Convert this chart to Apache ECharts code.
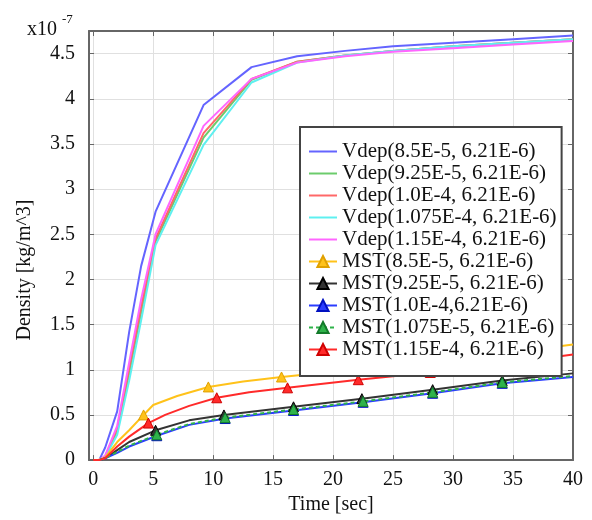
<!DOCTYPE html>
<html>
<head>
<meta charset="utf-8">
<script src="https://cdn.jsdelivr.net/npm/echarts@6/dist/echarts.min.js"></script>
<style>html,body{margin:0;padding:0;background:#fff;}#c{width:592px;height:520px;}</style>
</head>
<body>
<div id="c"></div>
<script>
// ---- data ----
var vdepT = [0, 0.5, 1, 2, 3, 4, 5.2, 9.2, 13.2, 17, 21, 25, 30, 35, 40];
var vdepBlue    = [0, 0, 0.14, 0.54, 1.42, 2.15, 2.75, 3.93, 4.35, 4.47, 4.53, 4.58, 4.62, 4.66, 4.70];
var vdepGreen   = [0, 0, 0.04, 0.32, 0.96, 1.64, 2.42, 3.57, 4.21, 4.41, 4.48, 4.53, 4.58, 4.62, 4.66];
var vdepRed     = [0, 0, 0.04, 0.35, 1.02, 1.70, 2.45, 3.62, 4.22, 4.41, 4.48, 4.53, 4.58, 4.62, 4.66];
var vdepCyan    = [0, 0, 0.03, 0.28, 0.88, 1.55, 2.38, 3.49, 4.18, 4.40, 4.48, 4.53, 4.58, 4.62, 4.66];
var vdepMagenta = [0, 0, 0.05, 0.38, 1.08, 1.78, 2.50, 3.70, 4.22, 4.40, 4.47, 4.52, 4.56, 4.60, 4.64];

var mstYellowT = [0, 0.4, 1, 2, 3, 4.2, 5, 7, 9.6, 12.5, 15.7, 21.6, 27.6, 33.6, 40];
var mstYellowV = [0, 0, 0.03, 0.20, 0.33, 0.50, 0.61, 0.71, 0.81, 0.87, 0.92, 1.00, 1.08, 1.17, 1.28];
var mstYellowM = [5, 8, 10, 11, 12, 13];

var mstBlackT = [0, 0.5, 1, 2, 3, 5.2, 8, 10.9, 16.7, 22.4, 28.3, 34.1, 40];
var mstBlackV = [0, 0, 0.02, 0.11, 0.20, 0.33, 0.44, 0.50, 0.59, 0.68, 0.78, 0.88, 0.96];
var mstBlackM = [5, 7, 8, 9, 10, 11];

var mstBlueT = [0, 0.5, 1, 2, 3, 5.3, 8, 11, 16.7, 22.5, 28.3, 34.1, 40];
var mstBlueV = [0, 0, 0.02, 0.08, 0.15, 0.27, 0.39, 0.46, 0.55, 0.64, 0.74, 0.85, 0.92];
var mstBlueM = [5, 7, 8, 9, 10, 11];

var mstGreenT = [0, 0.5, 1, 2, 3, 5.3, 8, 11, 16.7, 22.5, 28.3, 34.1, 40];
var mstGreenV = [0, 0, 0.02, 0.09, 0.16, 0.28, 0.40, 0.47, 0.56, 0.65, 0.75, 0.86, 0.93];
var mstGreenM = [5, 7, 8, 9, 10, 11];

var mstRedT = [0, 0.5, 1, 2, 3, 4.6, 6, 8, 10.3, 13, 16.2, 22.1, 28.1, 34, 40];
var mstRedV = [0, 0, 0.02, 0.15, 0.26, 0.41, 0.50, 0.60, 0.69, 0.75, 0.80, 0.89, 0.97, 1.06, 1.17];
var mstRedM = [5, 8, 10, 11, 12, 13];

var yTicks = [0, 0.5, 1, 1.5, 2, 2.5, 3, 3.5, 4, 4.5];

// ---- build ----
function pairs(t, v) { return t.map(function (x, i) { return [x, v[i]]; }); }
function markedPairs(t, v, m) {
  return t.map(function (x, i) {
    return { value: [x, v[i]], symbol: m.indexOf(i) >= 0 ? 'triangle' : 'none' };
  });
}
var serif = '"Liberation Serif", "DejaVu Serif", serif';

function vdep(name, color, vals) {
  return {
    name: name, type: 'line', data: pairs(vdepT, vals), symbol: 'none',
    lineStyle: { color: color, width: 2 }, itemStyle: { color: color },
    animation: false, z: 2
  };
}
function mst(name, color, border, t, v, m, dashed) {
  return {
    name: name, type: 'line', data: markedPairs(t, v, m), symbol: 'triangle', symbolSize: 10,
    showSymbol: true, showAllSymbol: true,
    lineStyle: { color: color, width: 2, type: dashed ? [4, 3] : 'solid' },
    itemStyle: { color: color, borderColor: border, borderWidth: 1 },
    animation: false, z: 3
  };
}

var series = [
  vdep('Vdep(8.5E-5, 6.21E-6)', '#6464ff', vdepBlue),
  vdep('Vdep(9.25E-5, 6.21E-6)', '#6ccc6c', vdepGreen),
  vdep('Vdep(1.0E-4, 6.21E-6)', '#ff6868', vdepRed),
  vdep('Vdep(1.075E-4, 6.21E-6)', '#5ef0f0', vdepCyan),
  vdep('Vdep(1.15E-4, 6.21E-6)', '#ff66ff', vdepMagenta),
  mst('MST(8.5E-5, 6.21E-6)', '#ffc21a', '#e0a000', mstYellowT, mstYellowV, mstYellowM),
  mst('MST(9.25E-5, 6.21E-6)', '#333333', '#000000', mstBlackT, mstBlackV, mstBlackM),
  mst('MST(1.0E-4,6.21E-6)', '#2b3cff', '#0010c0', mstBlueT, mstBlueV, mstBlueM),
  mst('MST(1.075E-5, 6.21E-6)', '#2fb34a', '#137a2a', mstGreenT, mstGreenV, mstGreenM, true),
  mst('MST(1.15E-4, 6.21E-6)', '#ff2a2a', '#d00000', mstRedT, mstRedV, mstRedM)
];

var legendData = series.map(function (s, i) {
  return i < 5
    ? { name: s.name, itemStyle: { opacity: 0, color: 'rgba(0,0,0,0)', borderWidth: 0 } }
    : { name: s.name };
});

var frameColor = '#666';
var chart = echarts.init(document.getElementById('c'), null, { renderer: 'canvas' });
chart.setOption({
  backgroundColor: '#fff',
  animation: false,
  grid: { left: 89, right: 19, top: 31, bottom: 54, containLabel: false },
  xAxis: [{
    type: 'value', min: -0.35, max: 40, splitNumber: 8,
    name: 'Time [sec]', nameLocation: 'middle', nameGap: 31,
    nameTextStyle: { fontFamily: serif, fontSize: 20, color: '#111' },
    axisLine: { show: true, onZero: false, lineStyle: { color: frameColor, width: 2 } },
    axisTick: { show: true, inside: true, length: 5, lineStyle: { color: frameColor } },
    axisLabel: { showMinLabel: false, margin: 10, fontFamily: serif, fontSize: 20, color: '#111' },
    splitLine: { show: true, lineStyle: { color: '#e0e0e0', width: 1 } }
  }, {
    type: 'value', position: 'top', min: -0.35, max: 40, splitNumber: 8,
    axisLine: { show: true, onZero: false, lineStyle: { color: frameColor, width: 2 } },
    axisTick: { show: true, inside: true, length: 5, lineStyle: { color: frameColor } },
    axisLabel: { show: false }, splitLine: { show: false }
  }],
  yAxis: [{
    type: 'value', min: 0, max: 4.75, interval: 0.5,
    axisLine: { show: true, onZero: false, lineStyle: { color: frameColor, width: 2 } },
    axisTick: { show: true, inside: true, length: 5, lineStyle: { color: frameColor } },
    axisLabel: {
      showMaxLabel: false, margin: 14, fontFamily: serif, fontSize: 20, color: '#111',
      formatter: function (v) { return yTicks.indexOf(v) >= 0 ? String(v) : ''; }
    },
    splitLine: { show: true, lineStyle: { color: '#e0e0e0', width: 1 } }
  }, {
    type: 'value', position: 'right', min: 0, max: 4.75, interval: 0.5,
    axisLine: { show: true, onZero: false, lineStyle: { color: frameColor, width: 2 } },
    axisTick: { show: true, inside: true, length: 5, lineStyle: { color: frameColor } },
    axisLabel: { show: false }, splitLine: { show: false }
  }],
  legend: {
    orient: 'vertical', left: 300, top: 127,
    padding: [14, 5, 16, 8], itemWidth: 28, itemHeight: 14, itemGap: 1,
    backgroundColor: '#fff', borderColor: '#444', borderWidth: 2,
    textStyle: { fontFamily: serif, fontSize: 21, color: '#111' },
    data: legendData
  },
  graphic: [
    { type: 'text', x: 27, y: 30, style: { text: 'x10', font: '20px ' + serif, fill: '#111', verticalAlign: 'middle' } },
    { type: 'text', x: 62, y: 20, style: { text: '-7', font: '13px ' + serif, fill: '#111', verticalAlign: 'middle' } },
    { type: 'text', x: 25, y: 270, rotation: Math.PI / 2,
      style: { text: 'Density [kg/m^3]', font: '20px ' + serif, fill: '#111', align: 'center', verticalAlign: 'middle' } }
  ],
  series: series
});
</script>
</body>
</html>
